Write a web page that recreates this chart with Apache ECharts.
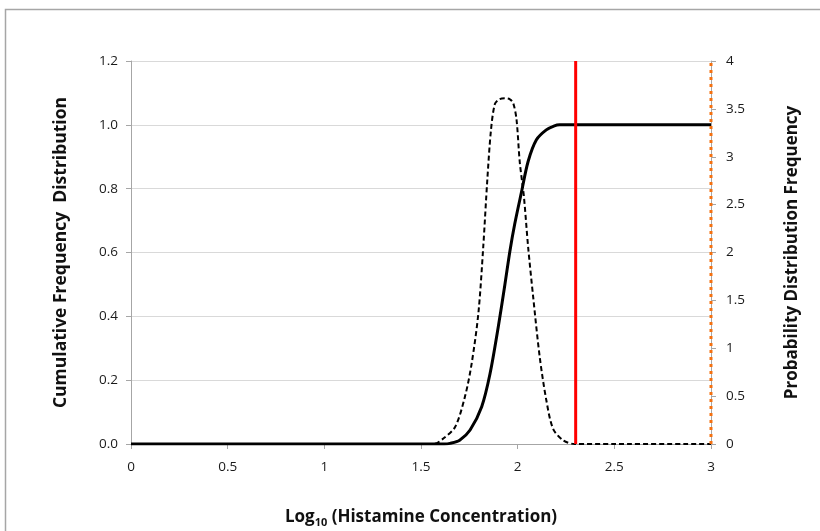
<!DOCTYPE html>
<html><head><meta charset="utf-8">
<script src="https://cdn.jsdelivr.net/npm/echarts@6/dist/echarts.min.js"></script>
<style>html,body{margin:0;padding:0;background:#fff}#c{width:820px;height:531px}</style>
</head><body><div id="c"></div>
<script>
// Cumulative frequency distribution (left axis)
const cumX = [0, 0.5, 1, 1.5, 1.62, 1.65, 1.70, 1.754, 1.814, 1.857, 1.90, 1.934, 1.96, 1.985, 2.02, 2.054, 2.097, 2.148, 2.19, 2.217, 2.5, 3];
const cumY = [0, 0, 0, 0, 0, 0.002, 0.012, 0.044, 0.117, 0.22, 0.368, 0.50, 0.605, 0.69, 0.79, 0.885, 0.953, 0.984, 0.997, 1.0, 1.0, 1.0];
// Probability distribution frequency (right axis)
const pdfX = [0, 0.5, 1, 1.5, 1.565, 1.617, 1.677, 1.728, 1.762, 1.797, 1.822, 1.843, 1.862, 1.882, 1.905, 1.934, 1.96, 1.977, 1.994, 2.011, 2.032, 2.054, 2.08, 2.114, 2.148, 2.183, 2.234, 2.294, 2.5, 3];
const pdfY = [0, 0, 0, 0, 0, 0.06, 0.18, 0.50, 0.84, 1.37, 2.06, 2.76, 3.28, 3.55, 3.60, 3.61, 3.60, 3.56, 3.39, 2.94, 2.59, 2.06, 1.54, 0.91, 0.46, 0.16, 0.04, 0, 0, 0];
// Reference lines
const redLineX = 2.3;
const orangeLineX = 3;
// Axis ranges
const xTicks = [0, 0.5, 1, 1.5, 2, 2.5, 3];
const leftTicks = [0, 0.2, 0.4, 0.6, 0.8, 1.0, 1.2];
const rightTicks = [0, 0.5, 1, 1.5, 2, 2.5, 3, 3.5, 4];

const font = '"Open Sans", "Liberation Sans", sans-serif';
const zip = (xs, ys) => xs.map((x, i) => [x, ys[i]]);

const chart = echarts.init(document.getElementById('c'), null, {renderer: 'canvas'});
chart.setOption({
  animation: false,
  backgroundColor: '#fff',
  textStyle: {fontFamily: font},
  graphic: [{type: 'rect', shape: {x: 5.5, y: 9.5, width: 840, height: 560}, style: {fill: null, stroke: '#a6a6a6', lineWidth: 1.5}, silent: true}],
  grid: {left: 131, right: 109, top: 61, bottom: 87, outerBoundsMode: 'none', containLabel: false},
  xAxis: {
    type: 'value', min: xTicks[0], max: xTicks[xTicks.length - 1], interval: 0.5,
    name: '{a|Log}{s|10}{a| (Histamine Concentration)}',
    nameLocation: 'middle', nameGap: 63,
    nameTextStyle: {rich: {a: {fontSize: 17, fontWeight: 'bold', color: '#111', fontFamily: font}, s: {fontSize: 11, fontWeight: 'bold', color: '#111', fontFamily: font, verticalAlign: 'bottom', padding: [10, 0, 0, 0]}}},
    axisLine: {lineStyle: {color: '#a6a6a6', width: 1}},
    axisTick: {show: true, length: 5, lineStyle: {color: '#a6a6a6'}},
    axisLabel: {fontSize: 13.5, color: '#1a1a1a', margin: 16, fontFamily: font},
    splitLine: {show: false}
  },
  yAxis: [{
    type: 'value', min: 0, max: 1.2, interval: 0.2,
    name: 'Cumulative Frequency  Distribution', nameLocation: 'middle', nameGap: 61, nameRotate: 90,
    nameTextStyle: {fontSize: 17.5, fontWeight: 'bold', color: '#111', fontFamily: font},
    axisLine: {show: true, lineStyle: {color: '#a6a6a6'}},
    axisTick: {show: true, length: 5, lineStyle: {color: '#a6a6a6'}},
    axisLabel: {fontSize: 13.5, color: '#1a1a1a', margin: 13, formatter: v => v.toFixed(1), fontFamily: font},
    splitLine: {show: true, lineStyle: {color: '#d9d9d9', width: 1}}
  }, {
    type: 'value', min: 0, max: 4, interval: 0.5, position: 'right',
    name: 'Probability Distribution Frequency', nameLocation: 'middle', nameGap: 73, nameRotate: 90,
    nameTextStyle: {fontSize: 17, fontWeight: 'bold', color: '#111', fontFamily: font},
    axisLine: {show: true, lineStyle: {color: '#a6a6a6'}},
    axisTick: {show: true, length: 5, lineStyle: {color: '#a6a6a6'}},
    axisLabel: {fontSize: 13.5, color: '#1a1a1a', margin: 15, fontFamily: font},
    splitLine: {show: false}
  }],
  series: [{
    type: 'line', yAxisIndex: 1, data: zip(pdfX, pdfY), showSymbol: false, smooth: 0.3,
    lineStyle: {color: '#000', width: 2, type: [5, 3]}, z: 2
  }, {
    type: 'line', yAxisIndex: 0, data: zip(cumX, cumY), showSymbol: false, smooth: 0.3,
    lineStyle: {color: '#000', width: 3}, z: 3
  }, {
    type: 'line', yAxisIndex: 0, data: [[redLineX, 0], [redLineX, 1.2]], showSymbol: false,
    lineStyle: {color: '#ff0000', width: 3}, z: 4
  }, {
    type: 'line', yAxisIndex: 1, data: [[orangeLineX, 0], [orangeLineX, 4]], showSymbol: false,
    lineStyle: {color: '#f5700f', width: 3, type: [3, 4]}, z: 5
  }]
});
</script></body></html>
